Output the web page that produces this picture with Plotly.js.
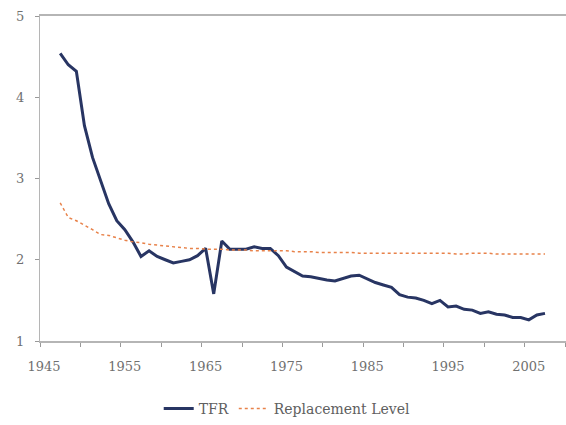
<!DOCTYPE html>
<html>
<head>
<meta charset="utf-8">
<script src="https://cdn.plot.ly/plotly-3.0.1.min.js"></script>
<style>html,body{margin:0;padding:0;background:#fff;}#chart{width:566px;height:425px;}</style>
</head>
<body>
<div id="chart"></div>
<script>
const years = [1947,1948,1949,1950,1951,1952,1953,1954,1955,1956,1957,1958,1959,1960,1961,1962,1963,1964,1965,1966,1967,1968,1969,1970,1971,1972,1973,1974,1975,1976,1977,1978,1979,1980,1981,1982,1983,1984,1985,1986,1987,1988,1989,1990,1991,1992,1993,1994,1995,1996,1997,1998,1999,2000,2001,2002,2003,2004,2005,2006,2007];
const tfr = [4.54,4.40,4.32,3.65,3.26,2.98,2.69,2.48,2.37,2.22,2.04,2.11,2.04,2.00,1.96,1.98,2.00,2.05,2.14,1.58,2.23,2.13,2.13,2.13,2.16,2.14,2.14,2.05,1.91,1.85,1.80,1.79,1.77,1.75,1.74,1.77,1.80,1.81,1.76,1.72,1.69,1.66,1.57,1.54,1.53,1.50,1.46,1.50,1.42,1.43,1.39,1.38,1.34,1.36,1.33,1.32,1.29,1.29,1.26,1.32,1.34];
const replacement = [2.70,2.52,2.48,2.43,2.37,2.31,2.30,2.27,2.24,2.22,2.21,2.19,2.18,2.17,2.16,2.15,2.14,2.14,2.13,2.13,2.13,2.12,2.12,2.12,2.11,2.11,2.11,2.11,2.11,2.10,2.10,2.10,2.09,2.09,2.09,2.09,2.09,2.08,2.08,2.08,2.08,2.08,2.08,2.08,2.08,2.08,2.08,2.08,2.08,2.07,2.07,2.08,2.08,2.08,2.07,2.07,2.07,2.07,2.07,2.07,2.07];
const xTickVals = [1945,1955,1965,1975,1985,1995,2005];
const xTickText = ['1945','1955','1965','1975','1985','1995','2005'];
const yTickVals = [1,2,3,4,5];

const fam = 'DejaVu Serif, Liberation Serif, serif';
const tickFont = {family: fam, size: 13, color: '#707070'};

const traces = [
  {x: years, y: tfr, name: 'TFR', type: 'scatter', mode: 'lines',
   line: {color: '#283563', width: 3}},
  {x: years, y: replacement, name: 'Replacement Level', type: 'scatter', mode: 'lines',
   line: {color: '#e8824a', width: 1.5, dash: 'dot'}}
];

const layout = {
  width: 566, height: 425,
  margin: {l: 40, r: 0, t: 16, b: 80},
  paper_bgcolor: '#ffffff', plot_bgcolor: '#ffffff',
  font: tickFont,
  showlegend: true,
  legend: {orientation: 'h', x: 0.47, xanchor: 'center', y: -0.21, yanchor: 'middle',
           font: {family: fam, size: 14, color: '#606060'}},
  xaxis: {
    range: [1944.5, 2009.6], tickvals: xTickVals, ticktext: xTickText,
    ticks: '', showgrid: false, zeroline: false,
    showline: true, linecolor: '#b5b5b5', linewidth: 2, mirror: true,
    tickfont: tickFont, ticklabelstandoff: 12,
    minor: {tick0: 1944.5, dtick: 5, ticks: 'outside', ticklen: 4, tickcolor: '#999999', showgrid: false}
  },
  yaxis: {
    range: [1, 5], tickvals: yTickVals, ticks: 'outside', ticklen: 4, tickcolor: '#999999',
    showgrid: false, zeroline: false, showline: true, linecolor: '#b5b5b5', linewidth: 1,
    tickfont: tickFont, ticklabelstandoff: 8
  }
};

Plotly.newPlot('chart', traces, layout, {displayModeBar: false, staticPlot: true});
</script>
</body>
</html>
